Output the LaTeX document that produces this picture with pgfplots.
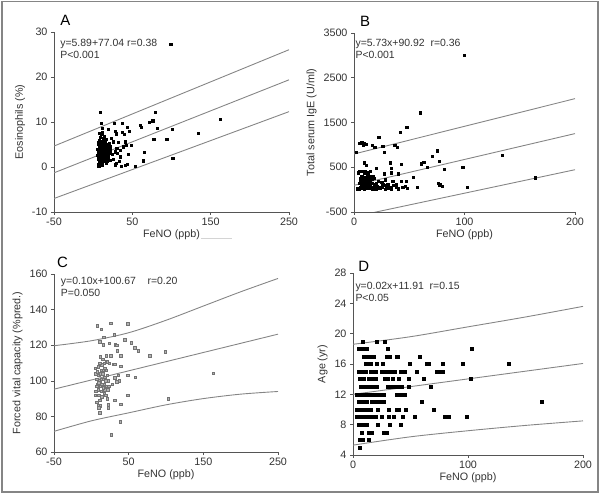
\documentclass[border=0pt]{standalone}
\usepackage{fontspec}
\setmainfont{Liberation Sans}
\usepackage{pgfplots}
\pgfplotsset{compat=1.18}
\definecolor{txt}{HTML}{333333}
\definecolor{axc}{HTML}{555555}
\definecolor{ln}{HTML}{858585}
\pgfplotsset{
 panel/.style={scale only axis, anchor=south west, clip mode=individual,
   axis x line*=bottom, axis y line*=left,
   axis line style={draw=axc, line width=0.8pt, -},
   every outer x axis line/.append style={-}, every outer y axis line/.append style={-},
   tick align=outside, major tick length=3bp,
   tick style={draw=axc, line width=0.6pt},
   ticklabel style={font=\fontsize{10.8}{12}\selectfont, text=txt},
   xticklabel style={yshift=1bp},
   label style={font=\fontsize{10.8}{12}\selectfont, text=txt},
   xlabel style={yshift=2bp},
   /pgf/number format/assume math mode=true,
   /pgf/number format/1000 sep={},
   minor tick num=0},
 band/.style={no marks, draw=ln, line width=0.9pt},
 dots/.style={only marks, mark=square*, mark size=1.1bp, mark options={draw=black, fill=black}},
}
\tikzset{
 ann/.style={anchor=north west, inner sep=0pt, align=left, font=\fontsize{10.5}{12}\selectfont, text=txt},
 plet/.style={anchor=base west, inner sep=0pt, font=\fontsize{15}{17}\selectfont, text=black},
}
\begin{document}
\begin{tikzpicture}
\path[use as bounding box] (0,0) rectangle (600bp,495bp);
\draw[ln, line width=1.2bp] (2bp,3bp) rectangle (598bp,493.5bp);

% ---------------- A ----------------
\begin{axis}[panel, at={(54bp,283bp)}, width=235bp, height=180bp,
  xmin=-50, xmax=250, ymin=-10, ymax=30,
  xtick={-50,50,150,250}, ytick={-10,0,10,20,30},
  xlabel={FeNO (ppb)}, ylabel={Eosinophils (\%)}]
\addplot[band] coordinates {(-50,4.65) (250,26.06)};
\addplot[band] coordinates {(-50,-1.3) (250,19.37)};
\addplot[band] coordinates {(-50,-7.0) (250,12.3)};
\addplot[dots] coordinates {
(6,0.2)(7,0.5)(8,1)(9,1.5)(10,2)(11,2.5)(12,3)(13,3.5)(14,4)(15,4.5)(6,1.8)(7,2.2)(8,2.8)(9,3.2)(10,3.8)(11,4.2)(12,4.8)(13,5.2)(14,1.2)(15,1.8)(16,2.4)(17,3)(18,3.6)(6,3.4)(7,4)(8,4.6)(9,5.2)(10,5.6)(11,0.4)(12,0.8)(13,1.4)(14,2.2)(15,2.8)(16,3.4)(17,4.2)(18,1.2)(6,5)(7,5.5)(8,6)(9,6.6)(10,7.2)(11,1.2)(12,1.8)(13,2.4)(7,3)(8,3.6)(9,4)(10,4.6)(11,5)(12,5.8)(13,6.4)(14,6.8)(15,5.6)(16,5)(17,0.8)(8,0.3)(9,0.8)(10,1.3)(5,2.6)(5,4)(19,2)(20,3)(19,4.5)(21,1.5)(20,5.2)(22,3.6)(8,7.5)(12,7.2)(16,6.2)
(99,27.3)(8.5,12.2)(10.2,9.8)(11.9,8.7)(11.4,7.6)(19.1,8.4)(27.2,9.8)(28.5,8)(29,7.4)(36.6,9.8)(37.5,7.8)(39.6,7.2)(43.4,8.9)(45.6,8)(60,9.3)(61.5,8.9)(72,10)(75.9,10.3)(78.9,12.1)(81.9,8.7)(101,8.4)(134,7.5)(162,10.6)(93.8,6.1)(77.2,6.1)(101.5,1.9)(65.6,3.3)(63.9,1.4)(54,0.1)(49,4.9)(25.6,5.5)(32,5.5)(21,4.5)(27.7,3.4)(34,2.3)(29,0.8)(36,0.1)(40.5,0.4)(43.5,0.6)(44.7,2.9)(38.3,4.5)(40.5,5.6)(25.5,1.8)(18.6,2.6)(16.5,1.5)(30,4.2)(24,2.8)(35,3.8)(28,0.5)(42,4.8)(23,6.4)(26,5.6)(31,3)(33,1.2)
};
\node[ann] at (rel axis cs:0.026,0.96) {y=5.89+77.04 r=0.38\\P<0.001};
\node[plet, yshift=6bp] at (rel axis cs:0.026,1) {A};
\draw[ln!35, line width=0.8pt] (rel axis cs:0.625,-0.145) -- (rel axis cs:0.757,-0.145);
\end{axis}

% ---------------- B ----------------
\begin{axis}[panel, at={(354bp,283bp)}, width=221bp, height=179bp,
  xmin=0, xmax=200, ymin=-500, ymax=3500,
  xtick={0,100,200}, ytick={-500,500,1500,2500,3500},
  xlabel={FeNO (ppb)}, ylabel={Total serum IgE (U/ml)}]
\addplot[band] coordinates {(0,796) (200,2033)};
\addplot[band] coordinates {(0,96) (200,1252)};
\addplot[band] coordinates {(0,-605) (200,445)};
\addplot[dots] coordinates {
(100,3000)(60,1720)(47.7,1400)(42,1290)(22.3,1180)(5,1030)(7,1050)(9,1040)(11,1020)(8,1000)(16.6,1000)(18.7,940)(26,970)(36.8,990)(39.2,940)(27.5,830)(2,830)(75,870)(71,740)(63,610)(61,580)(77,640)(66,510)(81.8,460)(98.4,510)(134,770)(43,570)(33,600)(34,480)(34,380)(9.4,600)(11.2,540)(20.2,480)(15,410)(27,357)(40,357)(53.7,283)(42.8,186)(47.4,186)(57,52)(76.3,141)(77.5,111)(79.6,74)(102.6,52)(163.8,268)
(3,20)(4,40)(5,10)(6,60)(7,30)(8,80)(9,15)(10,50)(11,120)(12,25)(13,200)(14,70)(15,35)(16,150)(17,10)(18,90)(19,40)(20,20)(22,60)(24,30)(26,110)(28,15)(30,70)(32,40)(34,20)(36,90)(38,50)(40,20)(6,250)(7,300)(8,220)(9,380)(10,280)(11,240)(12,330)(13,260)(14,300)(15,180)(16,240)(17,290)(5,150)(6,200)(7,120)(8,160)(9,220)(10,180)(12,140)(14,160)(18,250)(20,140)(22,190)(25,160)(28,220)(30,130)(35,180)(38,120)(44,60)(46,80)(48,30)(4,380)(5,410)(7,420)(10,400)(13,380)(8,100)(9,60)(11,30)(13,90)(15,100)(17,60)(19,110)(21,80)(23,40)(25,60)(27,90)(29,40)(31,110)(33,60)
};
\node[ann] at (rel axis cs:0.006,0.965) {y=5.73x+90.92\ \ r=0.36\\P<0.001};
\node[plet, yshift=6bp] at (rel axis cs:0.027,1) {B};
\end{axis}

% ---------------- C ----------------
\begin{axis}[panel, at={(54bp,43bp)}, width=224bp, height=178bp,
  xmin=-50, xmax=250, ymin=60, ymax=160,
  xtick={-50,50,150,250}, ytick={60,80,...,160},
  xlabel={FeNO (ppb)}, ylabel={Forced vital capacity (\%pred.)}]
\addplot[band, smooth] coordinates {(-50,119.7)(0,122.5)(50,127)(100,134)(150,142)(200,150)(250,157.5)};
\addplot[band] coordinates {(-50,95.3)(250,126.2)};
\addplot[band, smooth] coordinates {(-50,71.6)(0,77.5)(50,82)(100,86.5)(150,90)(200,92.5)(250,94)};
\addplot[only marks, mark=square*, mark size=1.25bp, mark options={draw=black!55, fill=black!30, line width=0.5pt}] coordinates {
(8,131)(13.4,129)(25.9,132.2)(48.7,132)(30.4,126)(16.5,124.5)(11.2,122)(16,120.2)(23.7,121.2)(32.2,120.2)(33.9,120)(45,123)(53.6,121.4)(58,118.5)(62.5,117)(34.8,117)(78,114)(99,116.2)(26.3,114)(39.3,114)(12,113.4)(20,110.8)(21,110.8)(29.5,109.3)(31.5,109.3)(39.3,108.2)(163,104.3)(48.7,103)(36.2,103)(59,102)(37.7,100)(33.9,99.4)(31.2,101.7)(28,98)(48.7,92)(31.2,89.1)(102.7,90)(22.8,86.6)(22.8,85)(39.7,86.8)(11.2,82)(38.4,77)(26.8,69.8)
(5,107)(6,104)(7,101)(8,98)(9,95)(10,92)(11,89)(12,86)(6,94)(7,97)(8,105)(9,108)(10,103)(11,100)(12,97)(13,94)(14,91)(15,104)(16,101)(17,98)(18,95)(19,92)(20,106)(21,103)(22,100)(23,97)(9,86)(10,85)(13,106)(14,109)(15,112)(16,96)(17,93)(18,107)(19,100)(20,97)(21,90)(22,95)(5,92)(7,88)(12,104)(14,98)(16,106)(18,102)(24,110)(20,114)(11,110)(17,110)(13,101)(10,99)
};
\node[ann] at (rel axis cs:0.03,0.983) {y=0.10x+100.67\ \ \ \ r=0.20\\P=0.050};
\node[plet, yshift=6bp] at (rel axis cs:0.013,1) {C};
\end{axis}

% ---------------- D ----------------
\begin{axis}[panel, at={(353bp,40bp)}, width=230bp, height=182bp,
  xmin=0, xmax=200, ymin=4, ymax=28,
  xtick={0,100,200}, ytick={4,8,...,28},
  xlabel={FeNO (ppb)}, ylabel={Age (yr)}]
\addplot[band, smooth] coordinates {(0,18.6)(50,19.6)(100,20.9)(150,22.2)(200,23.6)};
\addplot[band] coordinates {(0,12.0)(200,16.07)};
\addplot[band, smooth] coordinates {(0,5.3)(50,6.4)(100,7.2)(150,7.9)(200,8.5)};
\addplot[dots, mark size=1.5bp] coordinates {
(8.1,19)(20.3,19)(27.2,19)
(4.9,18)(6.4,18)(7.8,18)(9.3,18)(10.7,18)(12.2,18)(30.1,18)(102.9,18)
(9.3,17)(10.7,17)(12.2,17)(13.6,17)(15.1,17)(18,17)(29,17)(30.4,17)(31.9,17)(37.7,17)(39.1,17)(58,17)
(10.7,16)(12.2,16)(13.6,16)(15.1,16)(20.3,16)(26.1,16)(49.3,16)(63.8,16)(65.8,16)(78.3,16)(95.4,16)(135,16)
(4.9,15)(6.4,15)(7.8,15)(9.3,15)(10.7,15)(15.7,15)(17.4,15)(19.4,15)(25.2,15)(26.7,15)(28.7,15)(30.1,15)(33,15)(34.5,15)(35.9,15)(41.2,15)(42.9,15)(44.6,15)(55.1,15)(72.5,15)(74.5,15)(76.5,15)(78.3,15)
(5.8,14)(7.8,14)(9.3,14)(13.6,14)(15.1,14)(16.5,14)(18,14)(19.4,14)(27.5,14)(29,14)(30.1,14)(34.8,14)(40,14)(48.4,14)(61.5,14)(102,14)
(6.4,13)(7.8,13)(9.3,13)(10.7,13)(12.2,13)(13.6,13)(15.1,13)(16.5,13)(18,13)(19.4,13)(20.9,13)(30.1,13)(31.9,13)(33.6,13)(35.4,13)(37.1,13)(38.8,13)(42.6,13)(48.4,13)(67.3,13)
(3.5,12)(4.9,12)(6.4,12)(7.8,12)(9.3,12)(10.7,12)(12.2,12)(13.6,12)(15.1,12)(18,12)(20.3,12)(22.3,12)(25.2,12)(26.7,12)(38.3,12)(39.7,12)(41.2,12)(42.6,12)(44.6,12)
(4.9,11)(6.4,11)(7.8,11)(9.3,11)(10.7,11)(12.2,11)(16.5,11)(18,11)(19.4,11)(20.9,11)(22.3,11)(23.8,11)(25.2,11)(26.7,11)(59.4,11)(164.4,11)
(3.5,10)(4.9,10)(6.4,10)(7.8,10)(9.3,10)(10.7,10)(12.2,10)(13.6,10)(15.1,10)(21.7,10)(31,10)(38.3,10)(39.7,10)(45.5,10)(70.2,10)
(3.5,9)(4.9,9)(6.4,9)(7.8,9)(9.3,9)(10.7,9)(12.2,9)(13.6,9)(15.1,9)(16.5,9)(18,9)(19.4,9)(24.6,9)(31,9)(35.4,9)(43.5,9)(53.6,9)(79.7,9)(81.8,9)(83.2,9)(99.1,9)
(4.9,8)(6.4,8)(7.8,8)(9.3,8)(10.7,8)(12.2,8)(21.7,8)(31.6,8)(41.7,8)
(7.8,7)(13.6,7)(15.1,7)(16.5,7)(26.7,7)(28.1,7)(29.6,7)
(5.8,6)(7.2,6)(8.7,6)(13.6,6)
(5.5,5)
};
\node[ann] at (rel axis cs:0.01,0.95) {y=0.02x+11.91\ \ r=0.15\\P<0.05};
\node[plet, yshift=1bp] at (rel axis cs:0.022,1) {D};
\end{axis}
\end{tikzpicture}
\end{document}
